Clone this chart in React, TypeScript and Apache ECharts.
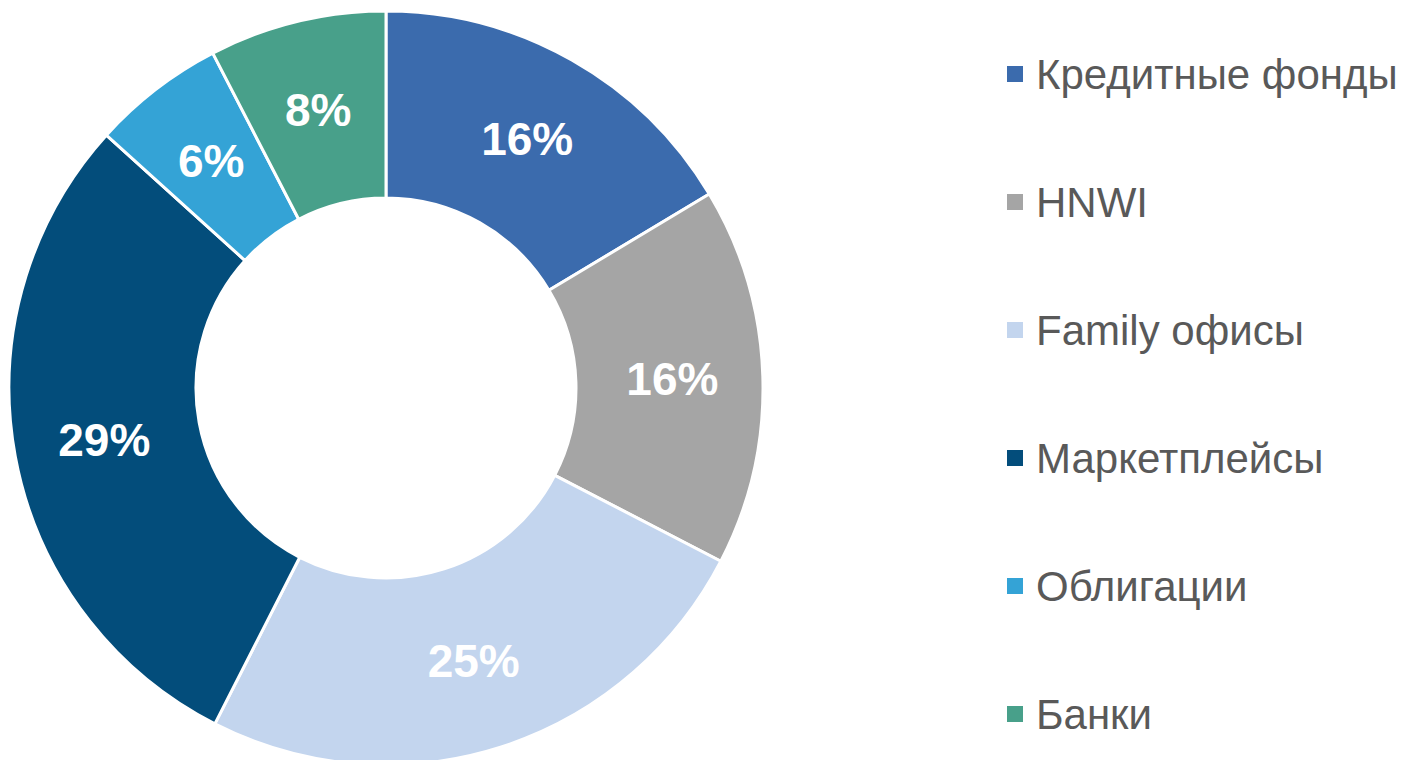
import React, { useEffect, useRef } from "react";
import * as echarts from "echarts";

const categories = ["Кредитные фонды", "HNWI", "Family офисы", "Маркетплейсы", "Облигации", "Банки"];
const values = [16.4, 16.2, 24.9, 29.2, 5.7, 7.6];
const labels = ["16%", "16%", "25%", "29%", "6%", "8%"];
const colors = ["#3B6BAD", "#A5A5A5", "#C3D5EE", "#034D7B", "#34A3D6", "#48A08A"];

export default function App() {
  const ref = useRef<HTMLDivElement>(null);
  useEffect(() => {
    if (!ref.current) return;
    const chart = echarts.init(ref.current, undefined, { renderer: "svg" });
    chart.setOption({
      animation: false,
      color: colors,
      legend: {
        orient: "vertical",
        left: 1005,
        top: 53,
        padding: 0,
        itemWidth: 18,
        itemHeight: 18,
        itemGap: 86,
        icon: "rect",
        data: categories,
        textStyle: {
          fontFamily: "Liberation Sans, Arial, sans-serif",
          fontSize: 42,
          lineHeight: 42,
          color: "#595959",
          padding: [0, 0, 0, 7],
        },
      },
      series: [
        {
          type: "pie",
          center: [386, 388],
          radius: [190, 377],
          startAngle: 90,
          clockwise: true,
          avoidLabelOverlap: false,
          itemStyle: { borderColor: "#ffffff", borderWidth: 3 },
          label: {
            show: true,
            position: "inside",
            formatter: (p: any) => labels[p.dataIndex],
            color: "#ffffff",
            fontFamily: "Liberation Sans, Arial, sans-serif",
            fontWeight: "bold",
            fontSize: 46,
          },
          labelLine: { show: false },
          emphasis: { disabled: true },
          data: categories.map((name, i) => ({ name, value: values[i] })),
        },
      ],
    });
    return () => chart.dispose();
  }, []);
  return (
    <div
      ref={ref}
      style={{ position: "fixed", left: 0, top: 0, width: 1410, height: 760, background: "#ffffff" }}
    />
  );
}
